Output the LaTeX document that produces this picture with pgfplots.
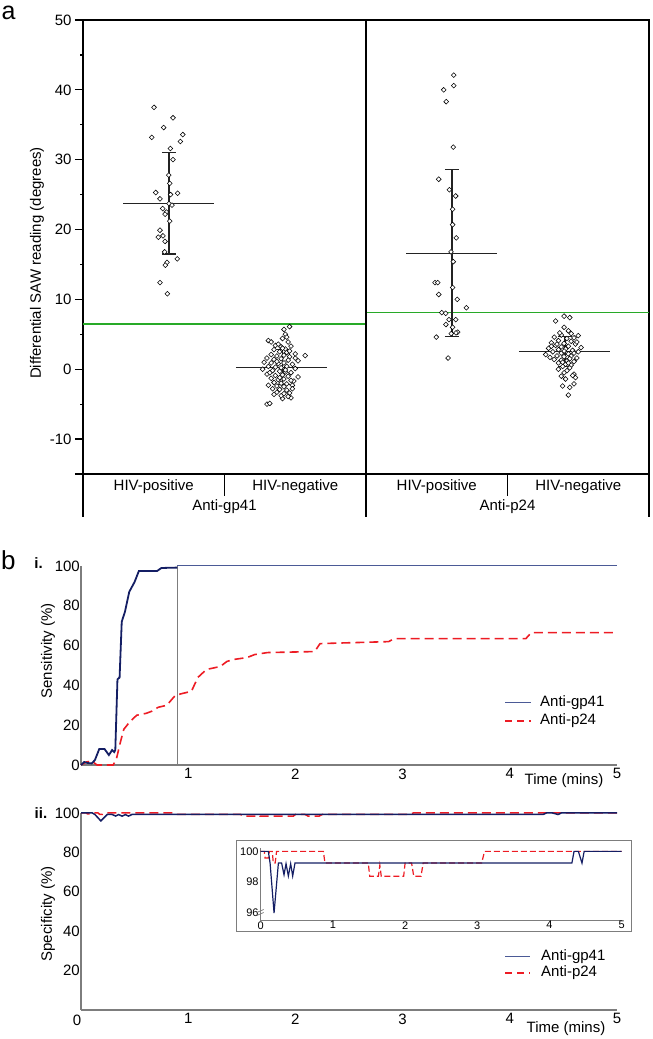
\documentclass[border=0pt]{standalone}
\usepackage{fontspec}
\setmainfont{Liberation Sans}
\usepackage{pgfplots}
\pgfplotsset{compat=1.18}

\definecolor{navy}{RGB}{20,30,100}
\definecolor{slate}{RGB}{75,90,150}
\definecolor{redd}{RGB}{237,28,36}
\definecolor{grn}{RGB}{40,170,40}
\definecolor{axgray}{RGB}{125,125,125}
\definecolor{sdcol}{RGB}{35,35,35}

\newcommand{\fs}[1]{\fontsize{#1}{#1}\selectfont}

\pgfplotsset{
  every axis/.append style={scale only axis, clip=false, anchor=south west,
    /pgf/number format/assume math mode=true,
    tick label style={font=\fs{15}}},
  dots/.style={only marks, mark=square*, mark size=1.7pt,
    mark options={rotate=45, fill=white, draw=black, line width=0.55pt}},
  sdbar/.style={sdcol, line width=1.1pt, mark=none},
  panelb/.style={width=536pt, xmin=0, xmax=5, ymin=0, ymax=100,
    axis x line*=bottom, axis y line*=left,
    axis line style={axgray, line width=1.3pt},
    xtick={1,2,3,4,5}, ytick={0,20,40,60,80,100},
    major tick length=0pt,
    yticklabel style={inner xsep=1pt}},
}

\begin{document}
\begin{tikzpicture}
\useasboundingbox (0pt,0pt) rectangle (653pt,1039pt);

% ---------------- panel a ----------------
\begin{axis}[at={(83pt,565pt)}, width=566pt, height=454pt,
  xmin=0, xmax=4, ymin=-15, ymax=50,
  axis line style={line width=1.4pt},
  xtick=\empty,
  ytick={-15,-10,0,10,20,30,40,50},
  yticklabels={,-10,0,10,20,30,40,50},
  minor ytick={-5,5,15,25,35,45},
  ytick pos=left, tick align=outside,
  major tick length=8pt, minor tick length=3pt,
  tick style={black, line width=1.2pt},
]
% cut-off lines
\addplot[grn, line width=1.4pt] coordinates {(0,6.5) (2,6.5)};
\addplot[grn, line width=1.4pt] coordinates {(2,8.1) (4,8.1)};

% mean and SD, anti-gp41 HIV-positive
\addplot[sdbar] coordinates {(0.283,23.7) (0.926,23.7)};
\addplot[sdbar] coordinates {(0.608,16.5) (0.608,31.0)};
\addplot[sdbar] coordinates {(0.558,31.0) (0.658,31.0)};
\addplot[sdbar] coordinates {(0.558,16.5) (0.658,16.5)};
% anti-gp41 HIV-negative
\addplot[sdbar] coordinates {(1.081,0.3) (1.724,0.3)};
\addplot[sdbar] coordinates {(1.413,-2.2) (1.413,2.8)};
\addplot[sdbar] coordinates {(1.363,2.8) (1.463,2.8)};
\addplot[sdbar] coordinates {(1.363,-2.2) (1.463,-2.2)};
% anti-p24 HIV-positive
\addplot[sdbar] coordinates {(2.283,16.6) (2.926,16.6)};
\addplot[sdbar] coordinates {(2.608,4.7) (2.608,28.6)};
\addplot[sdbar] coordinates {(2.558,28.6) (2.658,28.6)};
\addplot[sdbar] coordinates {(2.558,4.7) (2.658,4.7)};
% anti-p24 HIV-negative
\addplot[sdbar] coordinates {(3.081,2.5) (3.724,2.5)};
\addplot[sdbar] coordinates {(3.406,0.4) (3.406,4.7)};
\addplot[sdbar] coordinates {(3.356,4.7) (3.456,4.7)};
\addplot[sdbar] coordinates {(3.356,0.4) (3.456,0.4)};

% individual readings
\addplot[dots] coordinates {
(0.502,37.5)(0.636,36.0)(0.570,34.6)(0.705,33.6)(0.486,33.2)(0.688,32.6)
(0.617,31.6)(0.636,30.0)(0.606,27.8)(0.613,26.6)(0.514,25.3)(0.669,25.2)
(0.619,25.0)(0.544,24.4)(0.608,23.7)(0.629,23.5)(0.563,23.0)(0.589,22.5)
(0.580,22.2)(0.613,21.2)(0.544,19.9)(0.565,19.1)(0.532,18.9)(0.580,18.3)
(0.577,16.8)(0.666,15.8)(0.594,15.3)(0.582,14.9)(0.544,12.4)(0.596,10.8)};
\addplot[dots] coordinates {
(1.46,6.1)(1.42,5.7)(1.43,5.0)(1.31,4.1)(1.41,4.4)(1.44,4.6)(1.36,3.4)
(1.57,1.95)(1.50,1.6)(1.28,1.0)(1.27,0.0)(1.30,-5.0)(1.32,-4.9)(1.47,-4.1)
(1.41,-4.2)(1.49,-1.7)
(1.33,3.9)(1.38,3.6)(1.45,3.9)(1.40,3.2)(1.35,2.8)(1.43,2.9)(1.47,3.3)
(1.39,2.5)(1.44,2.4)(1.50,2.2)(1.33,2.1)(1.37,1.9)(1.42,2.0)(1.46,1.8)
(1.30,1.6)(1.35,1.4)(1.40,1.5)(1.45,1.3)(1.52,1.2)(1.33,0.9)(1.38,0.8)
(1.42,0.9)(1.48,0.7)(1.31,0.4)(1.36,0.3)(1.40,0.2)(1.44,0.4)(1.50,0.1)
(1.34,-0.2)(1.39,-0.3)(1.43,-0.4)(1.47,-0.5)(1.30,-0.7)(1.36,-0.9)
(1.41,-0.8)(1.45,-1.0)(1.52,-1.1)(1.33,-1.3)(1.38,-1.5)(1.42,-1.4)
(1.47,-1.6)(1.35,-1.9)(1.40,-2.0)(1.44,-2.1)(1.31,-2.3)(1.37,-2.4)
(1.42,-2.5)(1.48,-2.3)(1.34,-2.8)(1.39,-2.9)(1.44,-3.0)(1.37,-3.3)
(1.42,-3.5)(1.46,-3.4)(1.40,-3.8)(1.45,-3.9)(1.35,-3.6)(1.43,-0.1)
(1.37,1.1)(1.41,3.0)(1.39,-1.2)(1.46,2.6)(1.32,-0.5)(1.48,-2.8)};
\addplot[dots] coordinates {
(2.620,42.1)(2.620,40.6)(2.549,40.0)(2.567,38.3)(2.617,31.8)(2.514,27.2)
(2.589,25.7)(2.634,24.8)(2.612,22.9)(2.612,20.7)(2.638,18.8)(2.601,16.8)
(2.617,15.4)(2.488,12.4)(2.507,12.4)(2.514,10.7)(2.612,11.7)(2.645,10.0)
(2.709,8.8)(2.535,8.1)(2.563,8.0)(2.587,7.1)(2.634,7.1)(2.565,6.4)
(2.612,6.0)(2.648,5.3)(2.636,5.2)(2.497,4.6)(2.603,5.1)(2.580,1.6)};
\addplot[dots] coordinates {
(3.40,7.6)(3.44,7.4)(3.34,6.9)(3.40,6.0)(3.43,5.5)(3.50,4.8)(3.47,4.5)
(3.30,1.7)(3.47,-0.7)(3.48,-1.2)(3.47,-2.1)(3.39,-2.4)(3.44,-2.6)(3.43,-3.7)
(3.33,4.6)(3.38,4.9)(3.42,4.4)(3.36,4.1)(3.45,4.0)(3.31,3.8)(3.40,3.7)
(3.48,3.6)(3.34,3.4)(3.38,3.2)(3.43,3.3)(3.52,3.1)(3.29,3.0)(3.36,2.8)
(3.41,2.9)(3.46,2.7)(3.50,2.5)(3.32,2.5)(3.38,2.3)(3.43,2.2)(3.27,2.1)
(3.35,1.9)(3.40,1.8)(3.45,1.9)(3.49,1.6)(3.33,1.4)(3.38,1.3)(3.42,1.2)
(3.47,1.1)(3.36,0.9)(3.41,0.7)(3.45,0.6)(3.39,0.4)(3.44,0.2)(3.36,0.0)
(3.42,-0.2)(3.40,-0.5)(3.46,-0.9)(3.41,-1.4)(3.38,-1.0)(3.49,3.9)
(3.31,3.3)(3.44,1.5)(3.40,2.6)(3.35,3.6)(3.47,2.3)(3.39,1.0)(3.43,0.9)
(3.37,5.2)(3.45,5.1)};

% panel divider and category frame
\draw[line width=1.4pt] (axis cs:2,-15) -- (axis cs:2,50);
\draw[line width=1.4pt] (axis cs:0,-15) -- (axis cs:0,-21.2);
\draw[line width=1.4pt] (axis cs:2,-15) -- (axis cs:2,-21.2);
\draw[line width=1.4pt] (axis cs:4,-15) -- (axis cs:4,-21.2);
\draw[line width=1.4pt] (axis cs:1,-15) -- (axis cs:1,-18.2);
\draw[line width=1.4pt] (axis cs:3,-15) -- (axis cs:3,-18.2);
\node[font=\fs{15}] at (axis cs:0.5,-16.86) {HIV-positive};
\node[font=\fs{15}] at (axis cs:1.5,-16.86) {HIV-negative};
\node[font=\fs{15}] at (axis cs:2.5,-16.86) {HIV-positive};
\node[font=\fs{15}] at (axis cs:3.5,-16.86) {HIV-negative};
\node[font=\fs{15}] at (axis cs:1,-19.72) {Anti-gp41};
\node[font=\fs{15}] at (axis cs:3,-19.72) {Anti-p24};
\end{axis}
\node[rotate=90, font=\fs{15}] at (37pt,776pt) {Differential SAW reading (degrees)};
\node[inner sep=0, font=\fs{25}] at (8.5pt,1026.5pt) {a};

% ---------------- panel b.i ----------------
\begin{axis}[panelb, at={(81pt,274pt)}, height=199pt]
\addplot[axgray, line width=1.3pt] coordinates {(0.9,0) (0.9,100)};
\addplot[slate, line width=1pt] coordinates {(0.9,100) (5,100)};
\addplot[redd, line width=1.6pt, dash pattern=on 9pt off 5pt] coordinates {
(0,0)(0.05,1.5)(0.1,2)(0.15,0)(0.3,0)(0.33,3)(0.37,12)(0.40,18)(0.46,22)
(0.52,25)(0.61,26)(0.66,27)(0.72,29)(0.80,30)(0.88,35)(0.95,36)(1.03,37)
(1.09,44)(1.17,48)(1.30,49.5)(1.36,52)(1.42,53)(1.55,54)(1.62,55.5)
(1.74,56.5)(2.18,57)(2.23,61)(2.87,62)(2.92,63.5)(4.15,63.5)(4.2,66.5)(5.0,66.5)};
\addplot[navy, line width=1.8pt] coordinates {
(0,0)(0.03,1.5)(0.06,1.0)(0.10,0.8)(0.13,2.5)(0.17,8)(0.22,8)(0.26,5)
(0.29,7.5)(0.31,6.5)(0.32,7.5)(0.34,43)(0.36,44)(0.38,72)(0.41,77)
(0.45,87)(0.50,92)(0.54,97.5)(0.71,97.5)(0.75,99)(0.90,99.2)};
\end{axis}
\node[rotate=90, font=\fs{15}] at (48pt,388pt) {Sensitivity (\%)};
\node[font=\fs{15}] at (564pt,258pt) {Time (mins)};
\node[inner sep=0, font=\fs{26}] at (8.3pt,479pt) {b};
\node[inner sep=0, font=\bfseries\fs{15}] at (38.5pt,475.5pt) {i.};
\draw[slate, line width=1pt] (505pt,336pt) -- (531pt,336pt);
\draw[redd, line width=1.6pt, dash pattern=on 7pt off 5pt] (505pt,318pt) -- (531pt,318pt);
\node[anchor=west, inner sep=0, font=\fs{15}] at (540pt,336pt) {Anti-gp41};
\node[anchor=west, inner sep=0, font=\fs{15}] at (540pt,318pt) {Anti-p24};

% ---------------- panel b.ii ----------------
\begin{axis}[panelb, at={(81pt,29pt)}, height=197pt,
  yticklabels={,20,40,60,80,100}]
\addplot[redd, line width=1.5pt, dash pattern=on 9pt off 5pt] coordinates {
(0,100)(0.05,100)(0.06,99.57)(0.106,99.57)(0.12,100)(0.16,100)(0.175,99.24)
(0.2,99.24)(0.22,100)(0.868,100)(0.89,99.24)(1.49,99.24)(1.51,98.38)
(1.63,98.38)(1.65,99.1)(1.67,98.38)(1.98,98.38)(2.0,99.24)(2.09,99.24)
(2.12,98.38)(2.22,98.38)(2.25,99.24)(3.06,99.24)(3.1,100)(5,100)};
\addplot[navy, line width=1.5pt] coordinates {
(0,100)(0.106,100)(0.13,99.24)(0.185,96.0)(0.245,99.24)(0.29,99.24)
(0.323,98.48)(0.351,99.2)(0.383,98.4)(0.415,99.2)(0.443,98.4)(0.475,99.24)
(4.31,99.24)(4.34,100)(4.40,100)(4.45,99.24)(4.48,100)(5,100)};
\end{axis}
\node[font=\fs{15}] at (77pt,19pt) {0};
\node[rotate=90, font=\fs{15}] at (48pt,125pt) {Specificity (\%)};
\node[font=\fs{15}] at (566pt,10pt) {Time (mins)};
\node[inner sep=0, font=\bfseries\fs{15}] at (41pt,226pt) {ii.};
\draw[slate, line width=1pt] (505pt,82pt) -- (530pt,82pt);
\draw[redd, line width=1.6pt, dash pattern=on 7pt off 5pt] (505pt,66pt) -- (530pt,66pt);
\node[anchor=west, inner sep=0, font=\fs{15}] at (541pt,82pt) {Anti-gp41};
\node[anchor=west, inner sep=0, font=\fs{15}] at (541pt,66pt) {Anti-p24};

% inset
\draw[axgray, line width=1pt] (236pt,107pt) rectangle (631pt,198pt);
\begin{axis}[at={(260.7pt,118.3pt)}, width=361pt, height=72.4pt,
  xmin=0, xmax=5, ymin=95.5, ymax=100.2,
  axis x line*=bottom, axis y line*=left,
  axis line style={axgray, line width=1pt},
  xtick={0,1,2,3,4,5}, ytick={96,98,100}, major tick length=0pt,
  tick label style={font=\fs{11}},
  xticklabel style={inner ysep=0.5pt}, yticklabel style={inner xsep=2pt}]
\addplot[redd, line width=1.2pt, dash pattern=on 6pt off 3pt] coordinates {
(0,100)(0.05,100)(0.06,99.57)(0.106,99.57)(0.12,100)(0.16,100)(0.175,99.24)
(0.2,99.24)(0.22,100)(0.868,100)(0.89,99.24)(1.49,99.24)(1.51,98.38)
(1.63,98.38)(1.65,99.1)(1.67,98.38)(1.98,98.38)(2.0,99.24)(2.09,99.24)
(2.12,98.38)(2.22,98.38)(2.25,99.24)(3.06,99.24)(3.1,100)(5,100)};
\addplot[navy, line width=1.2pt] coordinates {
(0,100)(0.106,100)(0.13,99.24)(0.185,96.0)(0.245,99.24)(0.29,99.24)
(0.323,98.48)(0.351,99.2)(0.383,98.4)(0.415,99.2)(0.443,98.4)(0.475,99.24)
(4.31,99.24)(4.34,100)(4.40,100)(4.45,99.24)(4.48,100)(5,100)};
\draw[axgray, line width=0.7pt] ([xshift=-4pt,yshift=-2.5pt]axis cs:0,96) -- ++(7pt,3pt);
\draw[axgray, line width=0.7pt] ([xshift=-4pt,yshift=0.5pt]axis cs:0,96) -- ++(7pt,3pt);
\end{axis}
\end{tikzpicture}
\end{document}
